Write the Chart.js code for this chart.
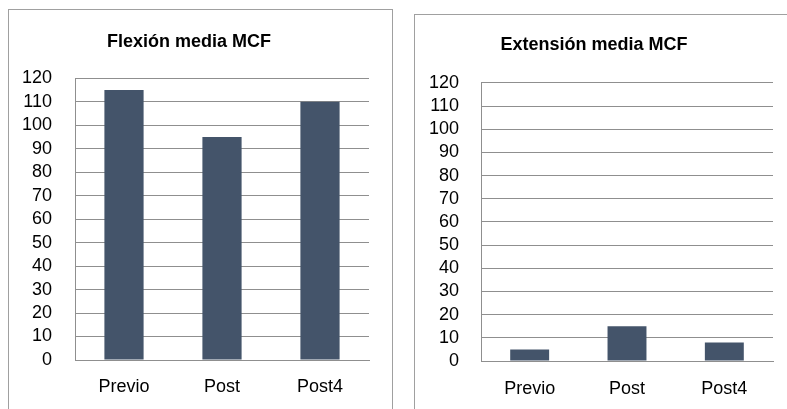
<!DOCTYPE html>
<html>
<head>
<meta charset="utf-8">
<script src="https://cdn.jsdelivr.net/npm/chart.js@4/dist/chart.umd.min.js"></script>
<style>
  html, body { margin: 0; padding: 0; background: #fff; width: 787px; height: 409px; overflow: hidden; }
  .box { position: absolute; border: 1px solid #a0a0a0; border-bottom: none; background: #fff; }
  #box1 { left: 8px; top: 9px; width: 383px; height: 420px; }
  #box2 { left: 414px; top: 14px; width: 383px; height: 420px; }
  canvas { position: absolute; left: 0; top: 0; }
</style>
</head>
<body>
<div class="box" id="box1"><canvas id="c1" width="383" height="400"></canvas></div>
<div class="box" id="box2"><canvas id="c2" width="383" height="395"></canvas></div>
<script>
const categories = ['Previo', 'Post', 'Post4'];
const flexionValues = [115, 95, 110];
const extensionValues = [5, 15, 8];
const flexionTitle = 'Flexión media MCF';
const extensionTitle = 'Extensión media MCF';
const yMin = 0;
const yMax = 120;
const yStep = 10;

const BAR_COLOR = '#44546A';
const GRID_COLOR = '#8f8f8f';
const FONT = 'Liberation Sans, Arial, sans-serif';

function makeChart(id, title, values, cfg) {
  return new Chart(document.getElementById(id), {
    type: 'bar',
    data: {
      labels: categories,
      datasets: [{
        data: values,
        backgroundColor: BAR_COLOR,
        borderWidth: 0,
        categoryPercentage: 1.0,
        barPercentage: 0.4
      }]
    },
    options: {
      responsive: false,
      animation: false,
      devicePixelRatio: 1,
      layout: { padding: { left: 0, right: cfg.right, top: 0, bottom: 0 } },
      plugins: {
        legend: { display: false },
        tooltip: { enabled: false },
        title: {
          display: true,
          text: title,
          color: '#000',
          font: { family: FONT, size: 18, weight: 'bold', lineHeight: 1.2 },
          padding: { top: cfg.titleTop, bottom: cfg.titleBottom }
        }
      },
      scales: {
        x: {
          grid: { display: false, drawTicks: false },
          border: { display: true, color: GRID_COLOR, width: 1 },
          ticks: { color: '#000', font: { family: FONT, size: 18 }, padding: cfg.xPad, maxRotation: 0, autoSkip: false },
          afterFit: (s) => { s.height = cfg.xHeight; }
        },
        y: {
          min: yMin,
          max: yMax,
          grid: { color: GRID_COLOR, lineWidth: 1, drawTicks: false },
          border: { display: true, color: GRID_COLOR, width: 1 },
          ticks: { stepSize: yStep, autoSkip: false, color: '#000', font: { family: FONT, size: 18, lineHeight: 1 }, padding: cfg.yPad },
          afterFit: (s) => { s.width = cfg.yWidth; }
        }
      }
    }
  });
}

makeChart('c1', flexionTitle, flexionValues, {
  right: 23, titleTop: 21, titleBottom: 25.6, xPad: 16, xHeight: 50, yPad: 23, yWidth: 66
});
makeChart('c2', extensionTitle, extensionValues, {
  right: 25, titleTop: 19, titleBottom: 27.3, xPad: 17, xHeight: 49, yPad: 22, yWidth: 66
});
</script>
</body>
</html>
